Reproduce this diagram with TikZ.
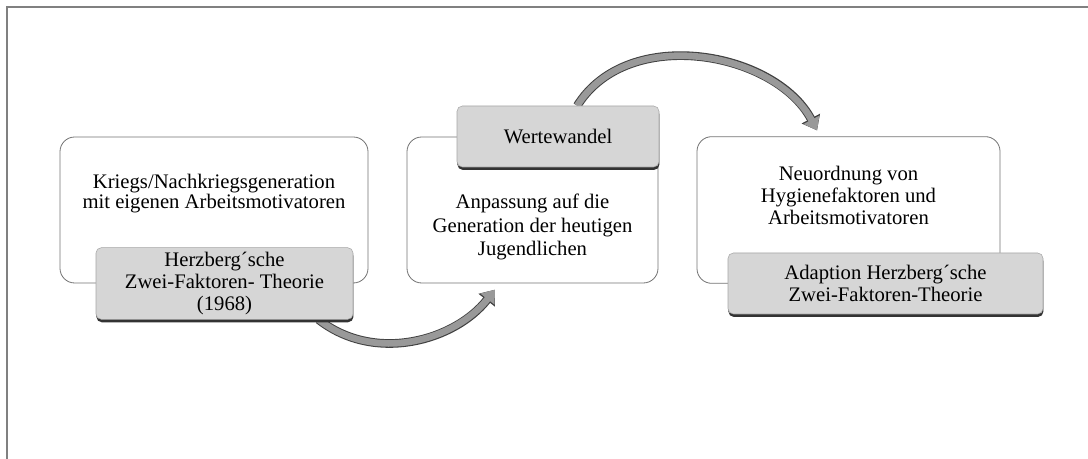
\documentclass[tikz,border=0pt]{standalone}
\usepackage{fontspec}
\setmainfont{Liberation Serif}
\usetikzlibrary{positioning,arrows.meta,shadows,backgrounds}

\tikzset{
  phase/.style={draw=black!55, rounded corners=11pt, fill=white, line width=0.6pt},
  tag/.style={draw=black!35, rounded corners=4pt, fill=black!16, line width=0.4pt,
    align=center, drop shadow={shadow xshift=0.3pt, shadow yshift=-2.2pt, opacity=1, fill=black!80}},
  phasetext/.style={align=center},
  bigarrow/.style={line width=5pt, draw=black!40, -{Triangle[length=9pt,width=13pt]},
    preaction={draw=black!75, line width=6.5pt, -{Triangle[length=10pt,width=15pt]}}}
}

\begin{document}
\begin{tikzpicture}[x=0.75pt,y=0.75pt,font=\fontsize{15.5}{16.5}\selectfont]
	\useasboundingbox (0,0) rectangle (1088,459);
	\draw[black!50, line width=1.5pt] (7,0) -- (7,452) -- (1090,452);

	\node[phase, minimum width=231pt, minimum height=109.5pt] (krieg) at (214,249) {};
	\node[phase, minimum width=188.25pt, minimum height=109.5pt] (anpassung) at (532.5,249) {};
	\node[phase, minimum width=227.25pt, minimum height=110pt] (neu) at (848.5,249) {};

	\node[phasetext, font=\fontsize{15.5}{14}\selectfont] (kriegtext) at (214,265) {Kriegs/Nachkriegsgeneration\\mit eigenen Arbeitsmotivatoren};
	\node[phasetext, font=\fontsize{15.5}{17.5}\selectfont] (anpassungtext) at (532.5,232) {Anpassung auf die\\Generation der heutigen\\Jugendlichen};
	\node[phasetext] (neutext) at (848.5,264) {Neuordnung von\\Hygienefaktoren und\\Arbeitsmotivatoren};

	\node[tag, minimum width=192.75pt, minimum height=45.75pt] (herzberg) at (224.5,175.5) {Herzberg´sche\\Zwei-Faktoren- Theorie\\(1968)};
	\node[tag, minimum width=151.5pt, minimum height=45.75pt] (werte) at (558,322.5) {Wertewandel};
	\node[tag, minimum width=236.25pt, minimum height=45.75pt] (adaption) at (885.5,175.5) {Adaption Herzberg´sche\\Zwei-Faktoren-Theorie};

	\begin{scope}[on background layer]
	\draw[bigarrow, shorten >=6pt] (herzberg.-21) to[out=-38, in=232] (anpassung.246);
	\draw[bigarrow, shorten >=5pt] (werte.58) to[out=58, in=118] (neu.111);
	\end{scope}
\end{tikzpicture}
\end{document}
